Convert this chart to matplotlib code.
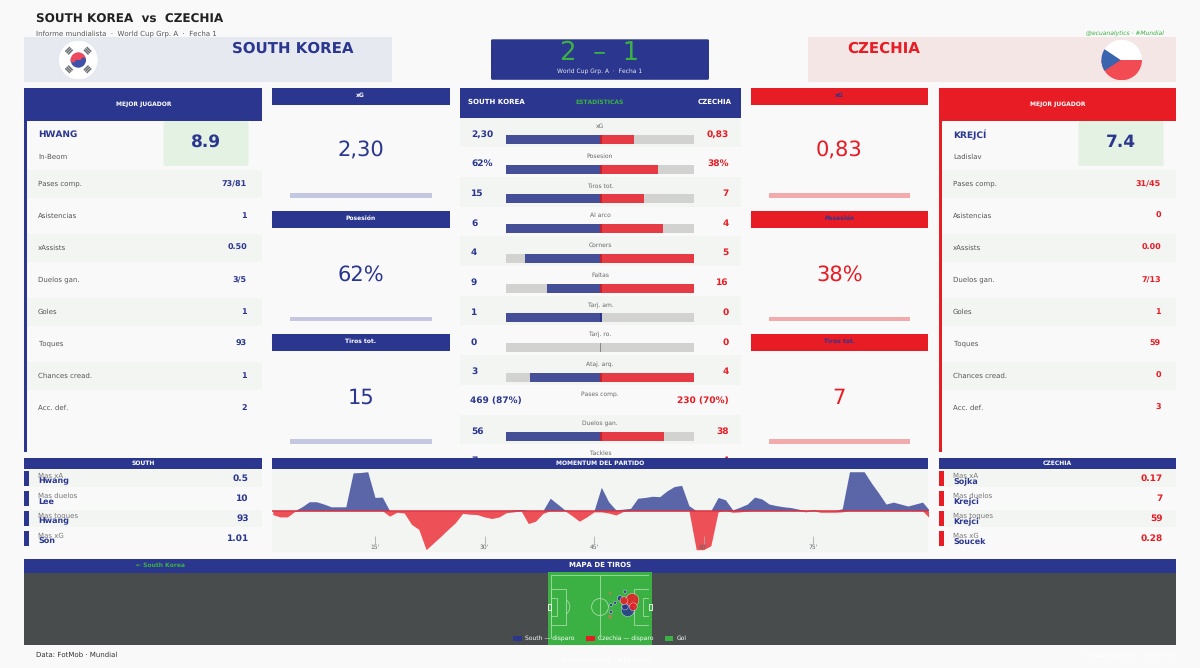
import numpy as np
import matplotlib
matplotlib.use("Agg")
import matplotlib.pyplot as plt
from matplotlib.patches import Rectangle, FancyBboxPatch, Circle, Wedge, Polygon, Patch, Arc

plt.rcParams["text.hinting"] = "no_hinting"
plt.rcParams["text.hinting_factor"] = 1

W, H = 1200, 668
NAVY = "#2b378f"
RED = "#e81c24"
GREEN = "#3bb143"
BG = "#f9f9fa"
SHADE = "#f3f5f3"
GREY = "#555555"

# match numbers
home_team, away_team = "SOUTH KOREA", "CZECHIA"
score_home, score_away = 2, 1

# centre table
stat_labels = ["xG", "Posesion", "Tiros tot.", "Al arco", "Corners", "Faltas",
               "Tarj. am.", "Tarj. ro.", "Ataj. arq.", "Pases comp.", "Duelos gan.", "Tackles"]
stat_home = [2.30, 62, 15, 6, 4, 9, 1, 0, 3, 469, 56, 7]
stat_away = [0.83, 38, 7, 4, 5, 16, 0, 0, 4, 230, 38, 4]
stat_home_txt = ["2,30", "62%", "15", "6", "4", "9", "1", "0", "3", "469 (87%)", "56", "7"]
stat_away_txt = ["0,83", "38%", "7", "4", "5", "16", "0", "0", "4", "230 (70%)", "38", "4"]

# kpi cards
kpi_labels = ["xG", "Posesión", "Tiros tot."]
kpi_home = ["2,30", "62%", "15"]
kpi_away = ["0,83", "38%", "7"]

# best players
player_rows = ["Pases comp.", "Asistencias", "xAssists", "Duelos gan.", "Goles", "Toques", "Chances cread.", "Acc. def."]
hwang_vals = ["73/81", "1", "0.50", "3/5", "1", "93", "1", "2"]
krejci_vals = ["31/45", "0", "0.00", "7/13", "1", "59", "0", "3"]

# leaders
leader_labels = ["Mas xA", "Mas duelos", "Mas toques", "Mas xG"]
home_leaders = ["Hwang", "Lee", "Hwang", "Son"]
home_leader_vals = ["0.5", "10", "93", "1.01"]
away_leaders = ["Sojka", "Krejci", "Krejci", "Soucek"]
away_leader_vals = ["0.17", "7", "59", "0.28"]

# momentum per minute
minutes = np.arange(1, 92)
momentum_home = [0, 0, 0, 0, 10, 23, 23, 17, 10, 10, 10, 97, 98, 100, 34, 35, 0, 0, 0, 0,
                 0, 0, 0, 0, 0, 0, 0, 0, 0, 0, 0, 0, 0, 2, 3, 0, 0, 0, 32, 17,
                 2, 0, 0, 0, 0, 60, 23, 2, 4, 6, 32, 34, 37, 36, 51, 62, 65, 13, 0, 0,
                 0, 34, 28, 2, 9, 17, 35, 30, 17, 13, 10, 8, 4, 0, 3, 0, 0, 0, 5, 100,
                 100, 100, 71, 45, 17, 22, 17, 12, 17, 22, 0]
momentum_away = [-10, -16, -16, -2, 0, 0, 0, 0, 0, 0, 0, 0, 0, 0, 0, 0, -14, -4, -6, -35,
                 -48, -100, -83, -66, -48, -31, -7, -9, -10, -16, -20, -16, -5, -3, 0, -33, -27, -7, 0, 0,
                 0, -13, -27, -16, -3, -3, -6, -11, -2, 0, 0, 0, 0, 0, 0, 0, 0, 0, -100, -100,
                 -90, -3, 0, -4, -3, -1, 0, 0, 0, 0, 0, 0, 0, -3, 0, -4, -4, -4, -3, 0,
                 0, 0, 0, 0, 0, 0, 0, 0, 0, 0, -20]
minute_ticks = [15, 30, 45, 60, 75]

# shots (pitch metres, 105x68)
home_shot_x = [79.3, 74.0, 68.6, 64.3, 64.3, 82.2, 79.3]
home_shot_y = [17.7, 24.8, 29.4, 31.9, 39.0, 37.2, 33.7]
home_shot_xg = [0.02, 0.06, 0.02, 0.02, 0.02, 0.34, 0.08]
away_shot_x = [87.1, 78.2, 88.2]
away_shot_y = [26.6, 27.3, 33.7]
away_shot_xg = [0.34, 0.12, 0.12]
miss_x = [63.2, 63.2]
miss_y = [19.5, 44.4]
miss_xg = [0.015, 0.03]


def rect(x0, y0, x1, y1, color, z=1, **kw):
    ax.add_patch(Rectangle((x0, y0), x1 - x0, y1 - y0, fc=color, ec="none", zorder=z, **kw))


def txt(x, y, s, size=6, color=GREY, weight="normal", ha="left", z=5, **kw):
    ax.text(x, y, s, fontsize=size, color=color, fontweight=weight, ha=ha, va="center", zorder=z, **kw)


def sub_axes(x0, y0, x1, y1, z=6):
    a = fig.add_axes([x0 / W, 1 - y1 / H, (x1 - x0) / W, (y1 - y0) / H], zorder=z)
    a.axis("off")
    return a


fig = plt.figure(figsize=(12, 6.68), dpi=100, facecolor=BG)
ax = fig.add_axes([0, 0, 1, 1])
ax.set_xlim(0, W)
ax.set_ylim(H, 0)
ax.axis("off")

# title
txt(36, 19.5, "SOUTH KOREA  vs  CZECHIA", 8.9, "#222222", "bold")
txt(36, 33.5, "Informe mundialista  ·  World Cup Grp. A  ·  Fecha 1", 5.1)
txt(1164, 33.5, "@ecuanalytics · #Mundial", 4.6, GREEN, ha="right", style="italic")

# banners
rect(24, 37, 392, 81.5, "#e6e9f0")
rect(808, 37, 1176, 81.5, "#f5e6e6")
txt(292.5, 48.5, home_team, 10.8, NAVY, "bold", ha="center")
txt(884, 48.5, away_team, 10.8, RED, "bold", ha="center")

# score box
ax.add_patch(FancyBboxPatch((491, 39.3), 218, 40.5, boxstyle="round,pad=0,rounding_size=1.5", fc=NAVY, ec="none", zorder=2))
txt(600, 53, f"{score_home}  –  {score_away}", 18.7, GREEN, ha="center")
txt(600, 71.5, "World Cup Grp. A  ·  Fecha 1", 4.5, "#e8e8f0", ha="center")

# flags
fk = sub_axes(59, 40.7, 97.6, 79.3)
fk.set_xlim(-1, 1)
fk.set_ylim(-1, 1)
fk.add_patch(Circle((0, 0), 1, fc="white", ec="none"))
fk.add_patch(Wedge((0, 0), 0.4, 0, 180, fc="#ec4a5c", ec="none"))
fk.add_patch(Wedge((0, 0), 0.4, 180, 360, fc="#3f51a8", ec="none"))
fk.add_patch(Circle((-0.27, 0), 0.13, fc="#ec4a5c", ec="none"))
fk.add_patch(Circle((0.27, 0), 0.13, fc="#3f51a8", ec="none"))
for ang in [45, 135, 225, 315]:
    u = np.array([np.cos(np.radians(ang)), np.sin(np.radians(ang))])
    v = np.array([-u[1], u[0]])
    for d in [0.58, 0.68, 0.78]:
        p0, p1 = u * d - v * 0.17, u * d + v * 0.17
        fk.plot([p0[0], p1[0]], [p0[1], p1[1]], color="#6a6e74", lw=1.1, solid_capstyle="butt")

fc = sub_axes(1101.4, 39.7, 1142, 80.3)
fc.set_xlim(-1, 1)
fc.set_ylim(-1, 1)
disc = Circle((0, 0), 1, fc="white", ec="none")
fc.add_patch(disc)
fc.add_patch(Wedge((0, 0), 1, 180, 360, fc="#f24b54", ec="none"))
tri = Polygon([[-1.1, 0.7], [-1.1, -0.7], [-0.05, 0]], fc="#3a64ad", ec="none")
fc.add_patch(tri)
tri.set_clip_path(disc)

# best player cards
for x0, x1, color, name, first, rating, vals in [
    (24, 262, NAVY, "HWANG", "In-Beom", "8.9", hwang_vals),
    (939, 1176, RED, "KREJCÍ", "Ladislav", "7.4", krejci_vals),
]:
    rect(x0, 88, x1, 120.5, color, 2)
    rect(x0, 120, x0 + 3, 452, color, 2)
    txt((x0 + x1) / 2 + 0.5, 104, "MEJOR JUGADOR", 4.4, "white", "bold", ha="center")
    txt(x0 + 14, 134.5, name, 6.5, NAVY, "bold")
    txt(x0 + 14, 157, first, 4.9)
    ax.add_patch(FancyBboxPatch((x0 + 139.5, 121), 85, 45, boxstyle="round,pad=0,rounding_size=2",
                                fc="#e3f2e3", ec="none", zorder=2))
    txt(x0 + 182, 142, rating, 12.6, NAVY, "bold", ha="center")
    for i, (lab, val) in enumerate(zip(player_rows, vals)):
        y = 184 + 32 * i
        if i % 2 == 0:
            rect(x0 + 3, y - 14, x1, y + 14, SHADE)
        txt(x0 + 14, y, lab, 4.9)
        txt(x1 - 15, y, val, 5.6, color, "bold", ha="right")

# kpi cards
for x0, x1, color, bar, vals in [(272, 449.5, NAVY, "#c3c8e0", kpi_home), (750.5, 928, RED, "#f2aaad", kpi_away)]:
    for lab, val, top, vy, by in zip(kpi_labels, vals, [88, 211, 334], [151, 275, 398], [193, 316.5, 439]):
        rect(x0, top, x1, top + 16.5, color, 2)
        txt((x0 + x1) / 2, top + 7.5, lab, 4.6, "white" if color == NAVY else NAVY, "bold", ha="center")
        txt((x0 + x1) / 2, vy, val, 15.3, color, ha="center")
        rect(x0 + 18, by, x1 - 18, by + 4.5, bar, 2)

# centre table
rect(459.5, 88, 741, 118, NAVY, 2)
txt(468, 102, home_team, 5.1, "white", "bold")
txt(600, 102, "ESTADÍSTICAS", 4.4, GREEN, "bold", ha="center")
txt(732, 102, away_team, 5.1, "white", "bold", ha="right")
for i, lab in enumerate(stat_labels):
    top = 117.5 + 29.7 * i
    if i % 2 == 0:
        rect(459.5, top, 741, top + 29.7, SHADE)
    txt(600, top + 9, lab, 4.6, "#666666", ha="center", z=2)
    if lab == "Pases comp.":
        txt(470.5, top + 17, stat_home_txt[i], 6.4, NAVY, "bold", z=2)
        txt(729, top + 17, stat_away_txt[i], 6.4, RED, "bold", ha="right", z=2)
        continue
    txt(471, top + 16.5, stat_home_txt[i], 6.4, NAVY, "bold", z=2)
    txt(729, top + 16.5, stat_away_txt[i], 6.4, RED, "bold", ha="right", z=2)
    rect(506, top + 17.5, 694, top + 26.5, "#d2d3d1", 2)
    mx = max(stat_home[i], stat_away[i])
    if mx == 0:
        rect(599.7, top + 17.5, 600.7, top + 26.5, "#888888", 3)
        continue
    rect(600 - 94 * stat_home[i] / mx, top + 17.5, 600, top + 26.5, "#444f98", 2.5)
    rect(600, top + 17.5, 600 + 94 * stat_away[i] / mx, top + 26.5, "#e63a44", 2.5)
    rect(599.5, top + 17.5, 601.5, top + 26.5, "#c4222e" if stat_away[i] else "#2b378f", 2.6)

# leaders panels
for x0, x1, color, head, names, vals in [
    (24, 262, NAVY, "SOUTH", home_leaders, home_leader_vals),
    (939, 1176, NAVY, "CZECHIA", away_leaders, away_leader_vals),
]:
    accent = NAVY if x0 == 24 else RED
    rect(x0, 458, x1, 469, NAVY, 4)
    txt((x0 + x1) / 2, 463.5, head, 4.6, "white", "bold", ha="center", z=6)
    rect(x0, 469, x1, 552, BG, 3)
    for i, (lab, name, val) in enumerate(zip(leader_labels, names, vals)):
        y = 478.7 + 20 * i
        if i % 2 == 0:
            rect(x0 + 5, y - 8.7, x1, y + 8.7, SHADE, 3)
        rect(x0 - 0.5 if x0 > 24 else x0, y - 7.5, x0 + 5, y + 7.5, accent, 4)
        txt(x0 + 14, y - 2.8, lab, 5.2, "#777777")
        txt(x0 + 14, y + 2.8, name, 5.8, NAVY, "bold")
        txt(x1 - 13, y, val, 6.8, accent, "bold", ha="right")

# momentum
rect(272, 458, 928, 469, NAVY, 4)
txt(600, 463, "MOMENTUM DEL PARTIDO", 4.6, "white", "bold", ha="center", z=6)
rect(272, 469, 928, 552, SHADE, 3)
am = sub_axes(272, 469, 928, 552)
am.set_xlim(0.89, 90.75)
am.set_ylim(-106, 107)
am.fill_between(minutes, 0, momentum_home, color="#5a66a8", lw=0)
am.fill_between(minutes, 0, momentum_away, color="#ee5058", lw=0)
am.axhline(0, color="#d9303e", lw=1.1)
am.vlines(minute_ticks, -85, -65, color="#aaaaaa", lw=0.6)
for m in minute_ticks:
    am.text(m, -93, f"{m}'", fontsize=4.3, color="#666666", ha="center", va="center")

# shot map
rect(24, 559, 1176, 572.5, NAVY, 4)
txt(600, 565, "MAPA DE TIROS", 4.7, "white", "bold", ha="center", z=6)
txt(136, 565, "← South Korea", 4.4, GREEN, "bold", z=6)
rect(24, 572.5, 1176, 645, "#484c4c", 3)
rect(548, 572, 652, 645, GREEN, 4)
ap = sub_axes(551, 575, 649, 639)
ap.set_xlim(0, 105)
ap.set_ylim(68, 0)
line = dict(fc="none", ec="#a6dca8", lw=0.6)
ap.add_patch(Rectangle((0, 0), 105, 68, **line))
ap.plot([52.5, 52.5], [0, 68], color="#a6dca8", lw=0.6)
ap.add_patch(Circle((52.5, 34), 9, **line))
for a, b in [(0, 16.5), (105, -16.5)]:
    ap.add_patch(Rectangle((a, 14.5), b, 39, **line))
    ap.add_patch(Rectangle((a, 24.5), b / 2.75, 19, **line))
    ap.add_patch(Rectangle((a, 30.3), -np.sign(b) * 3, 7.4, fc="none", ec="white", lw=0.6, clip_on=False))
ap.add_patch(Arc((11, 34), 18.3, 18.3, theta1=-53, theta2=53, ec="#a6dca8", lw=0.6))
ap.add_patch(Arc((94, 34), 18.3, 18.3, theta1=127, theta2=233, ec="#a6dca8", lw=0.6))
ap.scatter(home_shot_x, home_shot_y, s=np.array(home_shot_xg) * 260, c=NAVY, alpha=0.85, ec="white", lw=0.3, zorder=3)
ap.scatter(away_shot_x, away_shot_y, s=np.array(away_shot_xg) * 260, c=RED, alpha=0.85, ec="white", lw=0.3, zorder=4)
ap.scatter(miss_x, miss_y, s=np.array(miss_xg) * 260, c="#c08050", alpha=0.8, lw=0, zorder=3)
handles = [Patch(fc=NAVY, label="South — disparo"), Patch(fc=RED, label="Czechia — disparo"), Patch(fc=GREEN, label="Gol")]
leg = ax.legend(handles=handles, ncol=3, frameon=False, loc="center", bbox_to_anchor=(600, 638.5), bbox_transform=ax.transData,
                fontsize=4.4, labelcolor="white", handlelength=1.4, handleheight=0.9, handletextpad=0.5, columnspacing=1.9)
leg.set_zorder(7)

# footer
txt(36, 655, "Data: FotMob · Mundial", 4.9, "#333333")
txt(605, 660, "@ecuanalytics · #Mundial", 5, "#ffffff", ha="center")
txt(1130, 655, "@ecuanalytics · #Mundial", 5, "#ffffff", ha="center")

fig.savefig("out.png", dpi=100, facecolor=BG)
